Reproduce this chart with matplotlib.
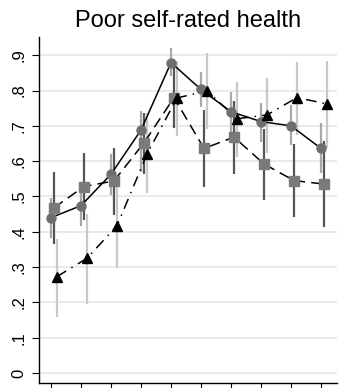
import matplotlib
matplotlib.use("Agg")
import matplotlib.pyplot as plt
import numpy as np

plt.rcParams['font.family'] = ['Liberation Sans', 'DejaVu Sans']

x = np.arange(1, 11)
circle = [0.440, 0.474, 0.563, 0.688, 0.879, 0.803, 0.740, 0.712, 0.700, 0.636]
circle_lo = [0.383, 0.416, 0.504, 0.570, 0.840, 0.754, 0.680, 0.655, 0.646, 0.567]
circle_hi = [0.496, 0.530, 0.620, 0.742, 0.920, 0.852, 0.797, 0.766, 0.759, 0.707]
square = [0.468, 0.528, 0.544, 0.652, 0.780, 0.636, 0.668, 0.592, 0.545, 0.535]
square_lo = [0.365, 0.433, 0.448, 0.565, 0.694, 0.528, 0.564, 0.490, 0.443, 0.413]
square_hi = [0.569, 0.622, 0.638, 0.737, 0.882, 0.745, 0.770, 0.690, 0.649, 0.658]
tri = [0.273, 0.325, 0.417, 0.620, 0.779, 0.799, 0.720, 0.731, 0.780, 0.762]
tri_lo = [0.159, 0.195, 0.297, 0.510, 0.670, 0.690, 0.613, 0.622, 0.674, 0.636]
tri_hi = [0.380, 0.450, 0.555, 0.735, 0.885, 0.906, 0.825, 0.836, 0.882, 0.885]
yticks = [0, .1, .2, .3, .4, .5, .6, .7, .8, .9]
ytick_labels = ['0', '.1', '.2', '.3', '.4', '.5', '.6', '.7', '.8', '.9']

fig = plt.figure(figsize=(3.4, 3.88), dpi=100)
ax = fig.add_axes([0.1147, 0.0129, 0.991 - 0.1147, 0.905 - 0.0129])

off_c, off_s, off_t = 0.0, 0.1, 0.2
xc = x + off_c
xs = x + off_s
xt = x + off_t

ax.vlines(xc, circle_lo, circle_hi, color='#a8a8a8', lw=1.6, zorder=2)
ax.vlines(xs, square_lo, square_hi, color='#555555', lw=1.6, zorder=2)
ax.vlines(xt, tri_lo, tri_hi, color='#c8c8c8', lw=1.6, zorder=2)

ax.plot(xc, circle, color='black', lw=1.1, ls='-', zorder=3)
ax.plot(xs, square, color='black', lw=1.1, ls=(0, (7, 4)), zorder=3)
ax.plot(xt, tri, color='black', lw=1.1, ls=(0, (7, 4, 1, 4)), zorder=3)

ax.plot(xc, circle, ls='none', marker='o', ms=6.5, color='#6e6e6e', mec='#6e6e6e', zorder=4)
ax.plot(xs, square, ls='none', marker='s', ms=6.5, color='#7a7a7a', mec='#7a7a7a', zorder=4)
ax.plot(xt, tri, ls='none', marker='^', ms=7, color='black', zorder=5)

ax.set_xlim(0.6, 10.53)
ax.set_ylim(-0.0283, 0.952)
ax.set_yticks(yticks)
ax.set_yticklabels(ytick_labels, rotation=90, va='center', fontsize=12)
ax.set_xticks(x)
ax.set_xticklabels([])
ax.grid(axis='y', color='#e6e6e6', lw=1.2)
ax.set_axisbelow(True)
for s in ['top', 'right']:
    ax.spines[s].set_visible(False)
ax.spines['left'].set_linewidth(1.0)
ax.spines['bottom'].set_linewidth(1.0)
ax.tick_params(axis='both', length=5, width=0.8, colors='black')
ax.tick_params(axis='y', pad=4)

ax.set_title('Poor self-rated health', fontsize=17, pad=7)

fig.savefig('out.png', dpi=100)
